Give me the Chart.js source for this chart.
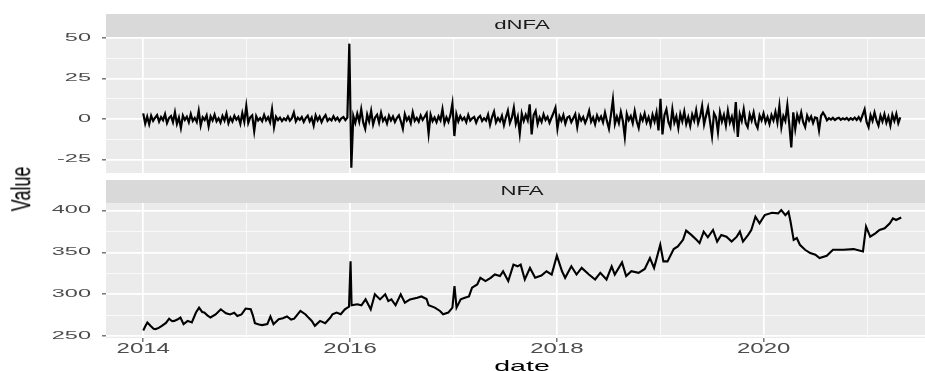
<!DOCTYPE html>
<html>
<head>
<meta charset="utf-8">
<script src="https://cdn.jsdelivr.net/npm/chart.js@4.4.1/dist/chart.umd.min.js"></script>
<style>
html, body { margin: 0; padding: 0; background: #ffffff; }
#wrap { position: relative; width: 925px; height: 371px; overflow: hidden; }
#topChart { position: absolute; left: 0; top: 0; }
#botChart { position: absolute; left: 0; top: 176px; }
#ytitle {
    position: absolute; left: 22px; top: 189px;
    font: 18px "Liberation Sans", Arial, sans-serif; color: #000;
    transform: translate(-50%, -50%) scaleX(1.5) rotate(-90deg);
    white-space: nowrap;
}
</style>
</head>
<body>
<div id="wrap">
    <canvas id="topChart" width="925" height="176"></canvas>
    <canvas id="botChart" width="925" height="195"></canvas>
    <div id="ytitle">Value</div>
</div>
<script>
//  Panel titles and tick labels
const panelNames  = ["dNFA", "NFA"];
const xTicks      = [2014, 2015, 2016, 2017, 2018, 2019, 2020, 2021];
const xTickLabels = ["2014", "2016", "2018", "2020"];
const dnfaTicks   = [-25, -12.5, 0, 12.5, 25, 37.5, 50];
const nfaTicks    = [250, 275, 300, 325, 350, 375, 400];

//  NFA: date (decimal year) and level
const nfaDates = [
    2014.00, 2014.02, 2014.04, 2014.07, 2014.10, 2014.12, 2014.15, 2014.18, 2014.22, 2014.25,
    2014.28, 2014.30, 2014.33, 2014.36, 2014.39, 2014.43, 2014.47, 2014.51, 2014.54, 2014.57,
    2014.59, 2014.62, 2014.65, 2014.70, 2014.75, 2014.80, 2014.84, 2014.88, 2014.91, 2014.95,
    2014.99, 2015.04, 2015.06, 2015.08, 2015.12, 2015.15, 2015.20, 2015.23, 2015.26, 2015.31,
    2015.35, 2015.39, 2015.43, 2015.46, 2015.52, 2015.57, 2015.60, 2015.63, 2015.66, 2015.71,
    2015.76, 2015.81, 2015.83, 2015.87, 2015.91, 2015.95, 2015.99, 2016.005, 2016.015, 2016.07,
    2016.11, 2016.15, 2016.20, 2016.24, 2016.29, 2016.34, 2016.37, 2016.40, 2016.44, 2016.49,
    2016.53, 2016.58, 2016.65, 2016.69, 2016.74, 2016.76, 2016.82, 2016.87, 2016.90, 2016.95,
    2016.99, 2017.01, 2017.03, 2017.07, 2017.11, 2017.15, 2017.18, 2017.23, 2017.26, 2017.31,
    2017.36, 2017.40, 2017.45, 2017.48, 2017.53, 2017.58, 2017.62, 2017.65, 2017.69, 2017.74,
    2017.79, 2017.85, 2017.90, 2017.95, 2018.00, 2018.05, 2018.08, 2018.14, 2018.19, 2018.24,
    2018.31, 2018.37, 2018.42, 2018.48, 2018.53, 2018.56, 2018.63, 2018.67, 2018.72, 2018.79,
    2018.85, 2018.90, 2018.94, 2019.00, 2019.03, 2019.07, 2019.13, 2019.17, 2019.22, 2019.25,
    2019.30, 2019.35, 2019.38, 2019.42, 2019.46, 2019.51, 2019.55, 2019.59, 2019.64, 2019.69,
    2019.74, 2019.77, 2019.80, 2019.85, 2019.88, 2019.92, 2019.96, 2020.01, 2020.08, 2020.14,
    2020.17, 2020.21, 2020.24, 2020.26, 2020.29, 2020.32, 2020.35, 2020.40, 2020.45, 2020.50,
    2020.54, 2020.61, 2020.67, 2020.77, 2020.87, 2020.96, 2020.99, 2021.03, 2021.08, 2021.12,
    2021.17, 2021.22, 2021.25, 2021.28, 2021.33
];
const nfaValues = [
    257, 262, 266.5, 262.5, 259, 258.6, 260, 262.5, 266, 271,
    268, 268.4, 270, 272.4, 264.5, 268.4, 266.5, 278.3, 284.2, 279,
    278.3, 275, 272.4, 276, 282.2, 277.5, 276, 278, 274.3, 276,
    283.1, 282.2, 275, 265.7, 264, 263.3, 264.5, 273.6, 264.5, 270.4,
    271.5, 273.6, 270, 271, 280.2, 276, 272, 268.4, 262.5, 268.4,
    265.7, 272.4, 276.3, 278.3, 276.3, 282.2, 285.4, 339.3, 287, 288.1,
    287, 294, 282.2, 300, 294, 300, 292, 294, 287, 300,
    290, 294, 296, 297.5, 294.5, 287, 284.2, 280.2, 276.3, 278.3,
    284.2, 309.8, 284.2, 294, 296, 297.5, 307.9, 311.8, 319.7, 315.8,
    319.7, 323.6, 321.7, 327.5, 315.8, 335.4, 333.4, 335.4, 317.7, 331.5,
    319.7, 322.4, 327.5, 323.6, 346, 327.5, 319.7, 333.4, 323.6, 331.5,
    323.6, 317.7, 325.6, 317.7, 333.4, 323.6, 338.1, 321.7, 327.5, 325.6,
    330.3, 343.3, 331.5, 359, 339.3, 339.3, 354, 357, 364.9, 375.9,
    370.8, 364.9, 361, 374.7, 368, 376.7, 362.8, 370.8, 368.7, 362.9,
    368.7, 374.7, 362.9, 370.8, 376.7, 392.4, 384.6, 394.4, 397.2, 396.4,
    400.3, 394.4, 398.4, 386.5, 364.9, 367, 359, 353.1, 349.2, 347.2,
    343.3, 346, 353.1, 353.1, 353.9, 351.1, 380.6, 368.7, 372.7, 376.7,
    378.6, 384.6, 390.5, 388.5, 391.6
];

//  dNFA: weekly changes from the first week of 2014
const dnfaStart = 2014.0;
const dnfaValues = [
    3.5, -2.8, 1.5, -3.2, 2.0, -1.1, 0.8, 2.4, -1.6, 1.2, -0.7, 3.0, -2.5, 0.6, 1.8, -1.9, 4.2, -3.0, 0.9, -5.5,
    2.2, -0.5, 1.4, -2.0, 3.1, -1.2, 0.7, -1.8, 5.0, -4.0, 1.1, -0.6, 2.3, -4.5, 1.6, -0.9, 2.7, -1.4, 0.5, -2.2,
    1.9, -1.0, 3.4, -2.6, 0.8, -1.5, 2.0, -0.4, 1.3, -2.9, 3.6, -1.7, 8.0, -2.4, 1.0, 2.2, -7.5, 1.8, -0.9, 0.6,
    -1.3, 2.5, -0.8, 1.1, -2.0, 6.0, -5.0, 1.4, -0.6, 0.9, -1.2, 0.4, -0.7, 1.6, -1.0, 0.5, 4.0, -1.5, 0.8, -0.5,
    1.2, -1.8, 0.6, 2.1, -1.4, 0.9, -4.0, 2.3, -0.8, 1.5, -1.9, 0.7, 2.4, -1.1, 0.3, -0.9, 1.7, -0.6, 0.8, -1.3,
    0.5, 1.2, -0.7, 0.9, 46.5, -30.0, 1.8, -2.4, 3.2, -1.6, 6.0, -2.1, -6.0, 2.8, -1.5, 5.0, -3.4, 1.0, 2.6, -2.2,
    3.8, -1.2, 0.8, -2.7, 2.0, -0.9, 1.5, -1.8, 0.6, 2.3, -1.4, -6.0, 3.0, -0.8, 1.2, -2.5, 4.1, -1.1, 0.7, -1.6,
    2.2, -0.5, 1.4, 3.5, -9.0, 2.7, -1.3, 0.9, -2.0, 1.6, -0.8, 6.0, -2.6, 1.1, -1.7, 2.4, 9.5, -10.5, 3.0, -1.5,
    1.8, -0.6, 0.9, -1.9, 2.5, -1.0, 0.4, 1.3, -2.2, 0.7, 1.9, -1.2, 0.5, -0.9, 2.8, -3.5, 1.2, 4.5, -2.1, 0.6,
    -1.4, 2.0, -3.8, 1.1, 5.2, -2.4, 0.8, 7.0, -2.9, 1.5, -9.0, 3.3, -1.2, 2.6, -0.7, 9.0, -9.5, 2.4, 5.0, -3.1,
    1.0, -1.8, 2.9, -0.6, 1.4, -2.3, 0.8, 3.7, 7.0, -6.0, 1.7, -1.1, 2.5, -2.8, 0.9, 1.6, -1.9, 0.5, 3.0, -5.0,
    2.1, -0.9, 1.3, -2.4, 0.6, 5.0, -1.6, 1.0, -3.2, 2.2, -0.8, 1.5, -2.0, 3.9, -1.3, -6.0, 2.6, 12.0, -3.0, 1.4,
    -2.5, 4.3, -1.0, -11.0, 3.2, -0.7, 1.8, -2.6, 4.8, -1.4, -5.5, 2.0, -0.9, 3.4, -2.1, 1.2, -3.6, 2.7, -1.5, 4.0,
    -7.0, 12.5, -9.5, 2.4, 6.0, -1.8, -5.0, 6.0, -2.2, 1.6, -5.5, 3.1, -1.4, 4.6, -3.0, 1.2, -4.2, 2.8, -1.0, 5.4,
    -2.6, 1.5, 8.0, -3.3, 2.0, 7.0, -1.7, -10.5, 3.6, 1.1, -8.0, 4.2, -1.5, 2.6, -3.9, 5.1, -2.2, 1.4, -4.6, 10.5,
    -11.0, 3.0, -1.2, 6.0, -2.4, -5.0, 2.9, -1.0, 4.0, -2.7, -5.5, 2.2, -0.8, 3.5, -1.9, 1.3, -3.1, 2.4, -0.9, 4.4,
    -2.0, 8.0, -5.0, 1.8, -1.2, 8.5, -3.5, -17.5, 4.1, -6.0, 2.5, -1.3, 4.0, -2.0, -5.0, 2.2, -0.9, 1.6, -2.4, 1.0,
    0.6, -7.0, 1.9, 4.0, 2.0, -0.8, 0.5, -0.4, 0.7, -0.6, 0.3, 0.8, -0.5, 0.4, -0.3, 0.6, -0.7, 0.5, -0.4, 0.9,
    -0.6, 1.2, -0.9, 2.6, 6.0, -1.8, -5.0, 2.4, -1.1, 4.0, -0.8, -4.0, 2.1, -1.5, 3.0, -2.3, 1.4, -4.0, 2.7, -1.2,
    3.2, -2.5, 1.0
];
const dnfaDates = dnfaValues.map((v, i) => dnfaStart + i * 7 / 365.25);

const X_MIN = 2013.64, X_MAX = 2021.56;

//  Текст с горизонтальным растяжением (как на исходной картинке)
function stretchText(ctx, text, x, y, sx, font, color, align, baseline){
    ctx.save();
    ctx.font = font;
    ctx.fillStyle = color;
    ctx.textAlign = align;
    ctx.textBaseline = baseline || 'middle';
    ctx.translate(x, y);
    ctx.scale(sx, 1);
    ctx.fillText(text, 0, 0);
    ctx.restore();
}

//  Panel background, strip, labels
const panelPlugin = {
    id: 'panel',
    beforeDraw(chart, args, opts){
        const ctx = chart.ctx, a = chart.chartArea;
        ctx.save();
        ctx.fillStyle = '#ebebeb';
        ctx.fillRect(a.left, a.top, a.right - a.left, a.bottom - a.top);
        ctx.fillStyle = '#d9d9d9';
        ctx.fillRect(a.left, a.top - opts.stripH, a.right - a.left, opts.stripH);
        ctx.restore();
    },
    afterDraw(chart, args, opts){
        const ctx = chart.ctx, a = chart.chartArea;
        const font = s => s + 'px "Liberation Sans", Arial, sans-serif';
        stretchText(ctx, opts.title, 522, a.top - opts.stripH / 2 + 0.5, 1.85, font(12), '#1a1a1a', 'center');

        const y = chart.scales.y;
        y.ticks.forEach(t => {
            if (t.value % opts.yMajor !== 0) return;
            stretchText(ctx, String(t.value), 91, y.getPixelForValue(t.value), 2.35, font(10), '#4d4d4d', 'right');
        });

        if (opts.xLabels){
            const x = chart.scales.x;
            xTickLabels.forEach(l => {
                stretchText(ctx, l, x.getPixelForValue(+l), a.bottom + 11, 1.6, font(15), '#4d4d4d', 'center');
            });
            stretchText(ctx, 'date', 522, 194.5, 1.9, font(15), '#000000', 'center', 'alphabetic');
        }
    }
};

function isMajor(c, step){
    return c.tick && c.tick.value % step === 0;
}

function makeConfig(xs, ys, yTicks, yMin, yMax, yMajor, title, bottom){
    return {
        type: 'line',
        data: {
            datasets: [{
                data: xs.map((x, i) => ({x: x, y: ys[i]})),
                borderColor: '#000000',
                borderWidth: bottom ? 2.1 : 2.2,
                pointRadius: 0,
                tension: 0,
                fill: false
            }]
        },
        options: {
            responsive: false,
            animation: false,
            devicePixelRatio: 1,
            layout: { padding: { left: 0, right: 0, top: bottom ? 27 : 37, bottom: bottom ? 0 : 3 } },
            plugins: {
                legend: { display: false },
                tooltip: { enabled: false },
                panel: { title: title, stripH: 23, yMajor: yMajor, xLabels: bottom }
            },
            scales: {
                x: {
                    type: 'linear',
                    min: X_MIN,
                    max: X_MAX,
                    afterBuildTicks: s => { s.ticks = xTicks.map(v => ({value: v})); },
                    afterFit: s => { s.height = bottom ? 33 : 0; },
                    ticks: { display: false },
                    border: { display: false },
                    grid: {
                        color: '#ffffff',
                        lineWidth: c => isMajor(c, 2) ? 1.7 : 0.7,
                        drawTicks: bottom,
                        tickLength: 4,
                        tickWidth: 1,
                        tickColor: c => isMajor(c, 2) ? '#333333' : 'rgba(0,0,0,0)'
                    }
                },
                y: {
                    type: 'linear',
                    min: yMin,
                    max: yMax,
                    afterBuildTicks: s => { s.ticks = yTicks.map(v => ({value: v})); },
                    afterFit: s => { s.width = 106; },
                    ticks: { display: false },
                    border: { display: false },
                    grid: {
                        color: '#ffffff',
                        lineWidth: c => isMajor(c, yMajor) ? 1.7 : 0.7,
                        drawTicks: true,
                        tickLength: 4,
                        tickWidth: 1,
                        tickColor: c => isMajor(c, yMajor) ? '#333333' : 'rgba(0,0,0,0)'
                    }
                }
            }
        },
        plugins: [panelPlugin]
    };
}

let topChart = new Chart(document.getElementById('topChart'),
    makeConfig(dnfaDates, dnfaValues, dnfaTicks, -33.3, 50.6, 25, panelNames[0], false));
let botChart = new Chart(document.getElementById('botChart'),
    makeConfig(nfaDates, nfaValues, nfaTicks, 248, 408.8, 50, panelNames[1], true));
</script>
</body>
</html>
